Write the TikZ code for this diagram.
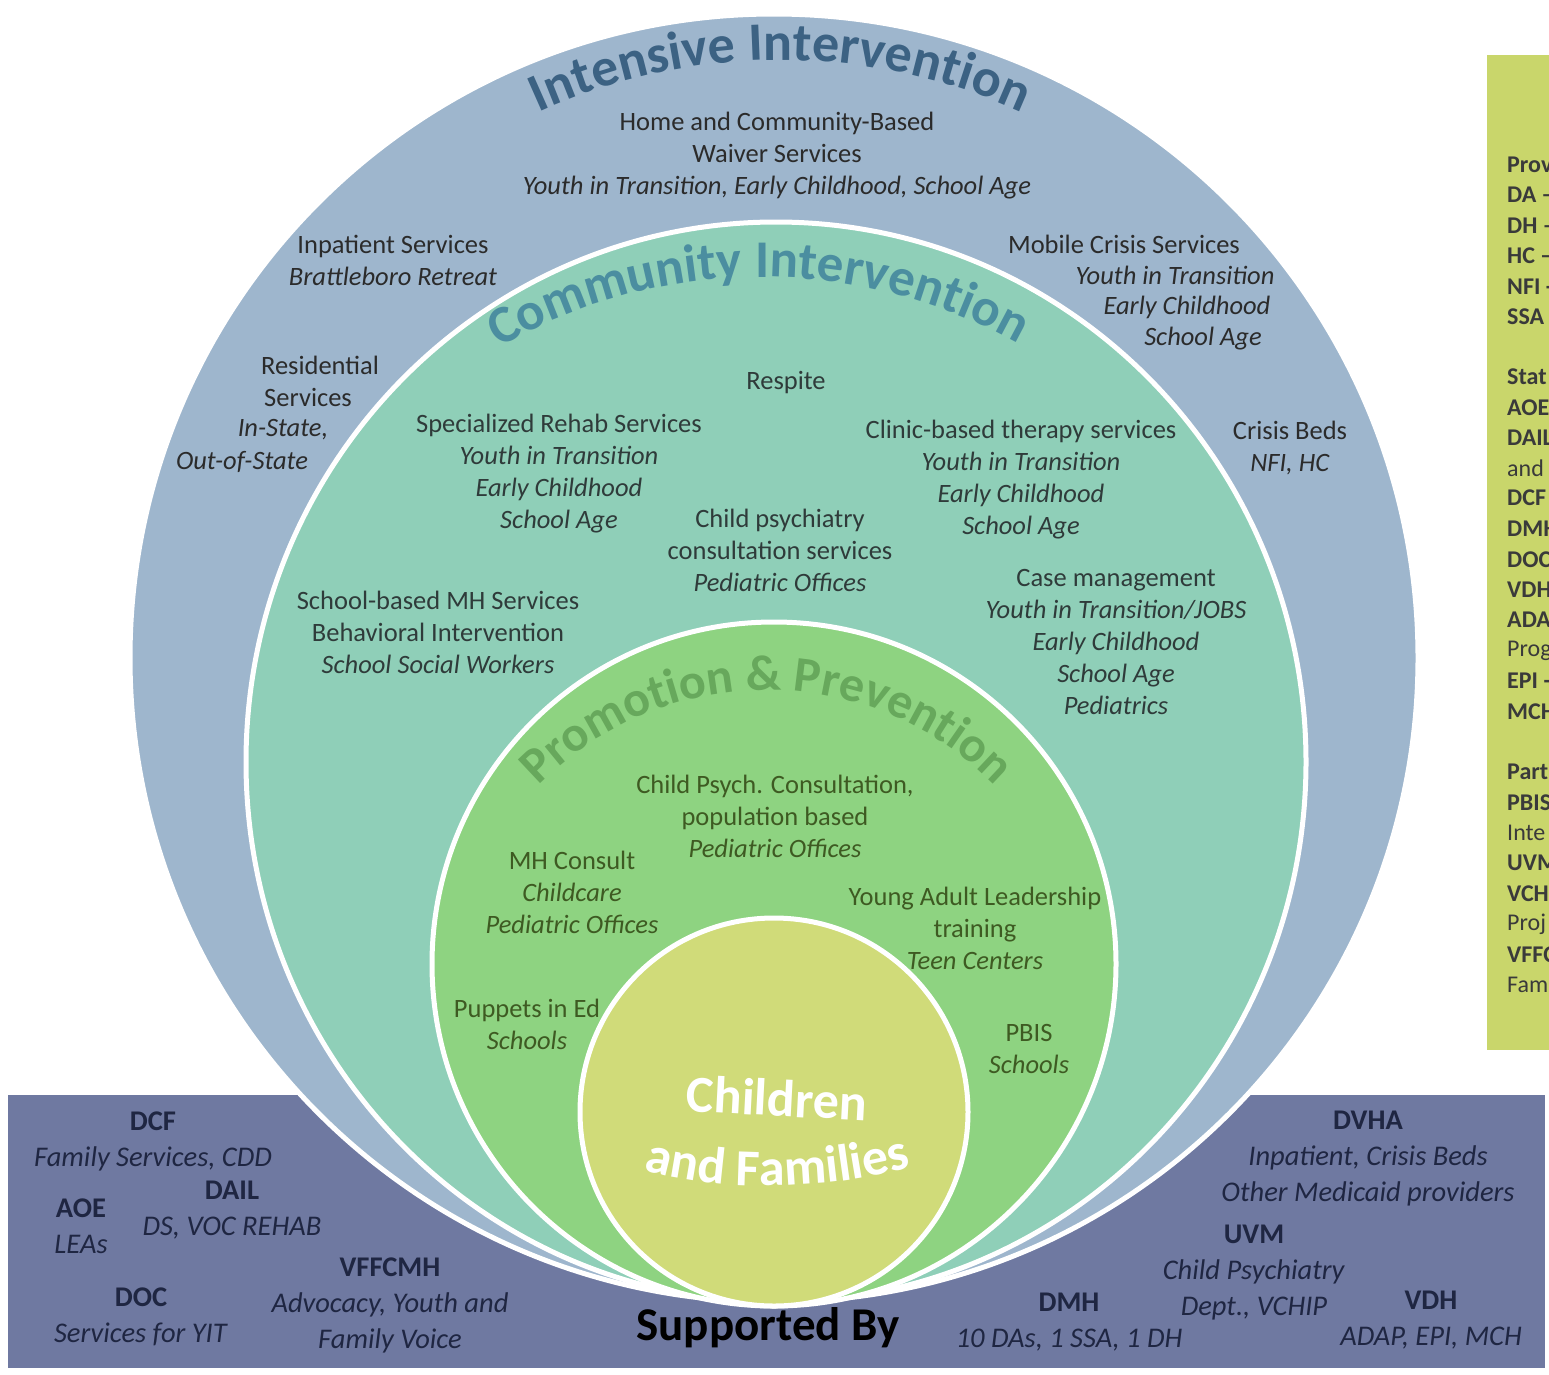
\documentclass[tikz,border=0pt]{standalone}
\usepackage{fontspec}
\setmainfont{Carlito}
\usetikzlibrary{decorations.text}
\definecolor{blueC}{HTML}{9EB6CD}
\definecolor{tealC}{HTML}{8FCFB8}
\definecolor{greenC}{HTML}{8ED381}
\definecolor{yellowC}{HTML}{D0DB79}
\definecolor{bandC}{HTML}{6F79A1}
\definecolor{legC}{HTML}{C9D66B}
\definecolor{intTitle}{HTML}{3C6283}
\definecolor{comTitle}{HTML}{4B8EA0}
\definecolor{proTitle}{HTML}{67A85C}
\definecolor{intText}{HTML}{2B2B2B}
\definecolor{comText}{HTML}{2F3B3A}
\definecolor{proText}{HTML}{3E5A22}
\definecolor{bandText}{HTML}{1F2642}
\definecolor{legText}{HTML}{3A3A3A}
\newcommand{\ttlfont}{\bfseries\fontsize{54}{54}\selectfont}
\newcommand{\comfont}{\bfseries\fontsize{53}{53}\selectfont}
\newcommand{\profont}{\bfseries\fontsize{50}{50}\selectfont}
\newcommand{\kidfont}{\bfseries\fontsize{52}{52}\selectfont}
\newcommand{\bodyfont}{\fontsize{26.5}{32}\selectfont}
\newcommand{\bandfont}{\fontsize{28.5}{36}\selectfont}
\begin{document}
\begin{tikzpicture}[x=1pt,y=-1pt,
  layer/.style={draw=white,line width=5pt},
  txt/.style={font=\bodyfont,align=center,inner sep=0pt},
  inttxt/.style={txt,text=intText},
  comtxt/.style={txt,text=comText},
  protxt/.style={txt,text=proText},
  bandtxt/.style={font=\bandfont,align=center,inner sep=0pt,text=bandText},
  legtxt/.style={font=\fontsize{24}{30}\selectfont,anchor=west,inner sep=0pt,text=legText},
  legbold/.style={legtxt,font=\bfseries\fontsize{24}{30}\selectfont}]
\useasboundingbox (0,0) rectangle (1549,1374);
\clip (0,0) rectangle (1549,1374);
\fill[white] (0,0) rectangle (1549,1374);
% legend box
\fill[legC] (1487,55) rectangle (1560,1050);
\node[legbold] (l1) at (1507,165) {Prov};
\node[legbold] (l2) at (1507,195) {DA –};
\node[legbold] (l3) at (1507,226) {DH –};
\node[legbold] (l4) at (1507,256) {HC –};
\node[legbold] (l5) at (1507,287) {NFI -};
\node[legbold] (l6) at (1507,317) {SSA};
\node[legbold] (l7) at (1507,377) {Stat};
\node[legbold] (l8) at (1507,408) {AOE};
\node[legbold] (l9) at (1507,438) {DAIL};
\node[legtxt] (l10) at (1507,468) {and};
\node[legbold] (l11) at (1507,498) {DCF};
\node[legbold] (l12) at (1507,529) {DMH};
\node[legbold] (l13) at (1507,560) {DOC};
\node[legbold] (l14) at (1507,590) {VDH};
\node[legbold] (l15) at (1507,620) {ADA};
\node[legtxt] (l16) at (1507,651) {Prog};
\node[legbold] (l17) at (1507,681) {EPI -};
\node[legbold] (l18) at (1507,712) {MCH};
\node[legbold] (l19) at (1507,772) {Part};
\node[legbold] (l20) at (1507,803) {PBIS};
\node[legtxt] (l21) at (1507,833) {Inte};
\node[legbold] (l22) at (1507,863) {UVM};
\node[legbold] (l23) at (1507,894) {VCH};
\node[legtxt] (l24) at (1507,924) {Proj};
\node[legbold] (l25) at (1507,955) {VFFC};
\node[legtxt] (l26) at (1507,985) {Fam};
% supported-by band
\fill[bandC] (8,1095) rectangle (1545,1368);
% circles
\fill[blueC,layer] (774,658) circle[radius=644];
\fill[tealC,layer] (776,762) ellipse[x radius=530,y radius=540];
\fill[greenC,layer] (774,964) circle[radius=342];
\fill[yellowC,layer] (774,1112) circle[radius=194];
% arc titles
\path[decorate,decoration={text along path,text align=center,text color=intTitle,text={|\ttlfont|Intensive Intervention}}]
  (780,640) ++(-135:580) arc[start angle=-135,end angle=-45,radius=580];
\path[decorate,decoration={text along path,text align=center,text color=comTitle,text={|\comfont|Community Intervention}}]
  (762,800) ++(-140.4:523) arc[start angle=-140.4,end angle=-40.4,radius=523];
\path[decorate,decoration={text along path,text align=center,text color=proTitle,text={|\profont|Promotion {\&} Prevention}}]
  (767,1009) ++(-160:319) arc[start angle=-160,end angle=-20,radius=319];
% intensive
\node[inttxt] (hcbs) at (777,156) {Home and Community-Based\\Waiver Services\\\textit{Youth in Transition, Early Childhood, School Age}};
\node[inttxt] (inpat) at (393,260) {Inpatient Services\\\textit{Brattleboro Retreat}};
\node[inttxt] (res1) at (320,365) {Residential};
\node[inttxt] (res2) at (308,397) {Services};
\node[inttxt] (res3) at (283,430) {\textit{In-State,}};
\node[inttxt] (res4) at (242,462) {\textit{Out-of-State}};
\node[inttxt] (mob1) at (1124,244) {Mobile Crisis Services};
\node[inttxt] (mob2) at (1175,275) {\textit{Youth in Transition}};
\node[inttxt] (mob3) at (1187,307) {\textit{Early Childhood}};
\node[inttxt] (mob4) at (1203,339) {\textit{School Age}};
\node[inttxt] (beds) at (1290,448) {Crisis Beds\\\textit{NFI, HC}};
% community
\node[comtxt] (resp) at (786,383) {Respite};
\node[comtxt] (rehab) at (559,474) {Specialized Rehab Services\\\textit{Youth in Transition}\\\textit{Early Childhood}\\\textit{School Age}};
\node[comtxt] (clinic) at (1021,480) {Clinic-based therapy services\\\textit{Youth in Transition}\\\textit{Early Childhood}\\\textit{School Age}};
\node[comtxt] (psych) at (780,550) {Child psychiatry\\consultation services\\\textit{Pediatric Offices}};
\node[comtxt] (school) at (438,632) {School-based MH Services\\Behavioral Intervention\\\textit{School Social Workers}};
\node[comtxt] (case) at (1116,642) {Case management\\\textit{Youth in Transition/JOBS}\\\textit{Early Childhood}\\\textit{School Age}\\\textit{Pediatrics}};
% promotion
\node[protxt] (cpc) at (775,816) {Child Psych. Consultation,\\population based\\\textit{Pediatric Offices}};
\node[protxt] (mhc) at (572,892) {MH Consult\\\textit{Childcare}\\\textit{Pediatric Offices}};
\node[protxt] (yal) at (975,928) {Young Adult Leadership\\training\\\textit{Teen Centers}};
\node[protxt] (pup) at (527,1024) {Puppets in Ed\\\textit{Schools}};
\node[protxt] (pbis) at (1029,1049) {PBIS\\\textit{Schools}};
% children
\node[text=white,font=\kidfont,inner sep=0pt,rotate=-3] (child) at (777,1098) {Children};
\path[decorate,decoration={text along path,text align=center,text color=white,text={|\kidfont|and Families}}]
  (630,1166) .. controls (710,1194) and (840,1192) .. (925,1162);
% band
\node[bandtxt] (dcf) at (153,1141) {\textbf{DCF}\\\textit{Family Services, CDD}};
\node[bandtxt] (aoe) at (81,1226) {\textbf{AOE}\\\textit{LEAs}};
\node[bandtxt] (dail) at (232,1210) {\textbf{DAIL}\\\textit{DS, VOC REHAB}};
\node[bandtxt] (doc) at (141,1317) {\textbf{DOC}\\\textit{Services for YIT}};
\node[bandtxt] (vff) at (390,1305) {\textbf{VFFCMH}\\\textit{Advocacy, Youth and}\\\textit{Family Voice}};
\node[inner sep=0pt,font=\bfseries\fontsize{47}{50}\selectfont,text=black] (sup) at (768,1328) {Supported By};
\node[bandtxt] (dvha) at (1368,1159) {\textbf{DVHA}\\\textit{Inpatient, Crisis Beds}\\\textit{Other Medicaid providers}};
\node[bandtxt] (uvm) at (1254,1273) {\textbf{UVM}\\\textit{Child Psychiatry}\\\textit{Dept., VCHIP}};
\node[bandtxt] (dmh) at (1069,1322) {\textbf{DMH}\\\textit{10 DAs, 1 SSA, 1 DH}};
\node[bandtxt] (vdh) at (1431,1320) {\textbf{VDH}\\\textit{ADAP, EPI, MCH}};
\end{tikzpicture}
\end{document}
